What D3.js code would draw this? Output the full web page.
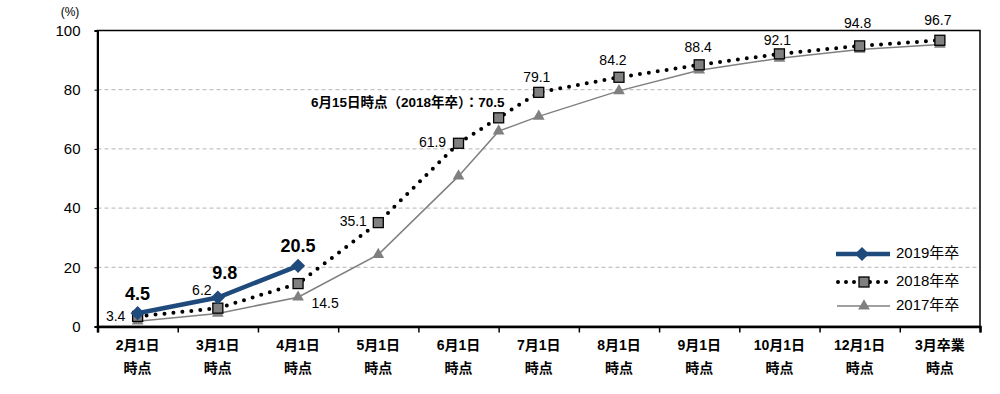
<!DOCTYPE html>
<html><head><meta charset="utf-8">
<script src="https://cdn.jsdelivr.net/npm/d3@7"></script>
<style>body{margin:0;background:#fff}svg{display:block}text{font-family:"Liberation Sans","Noto Sans CJK JP",sans-serif}</style>
</head><body><svg id="c" width="1000" height="394"></svg>
<script>
const categories = ["2月1日|時点","3月1日|時点","4月1日|時点","5月1日|時点","6月1日|時点","7月1日|時点","8月1日|時点","9月1日|時点","10月1日|時点","12月1日|時点","3月卒業|時点"];
const yTicks = [0,20,40,60,80,100];
const pos2019 = [0,1,2];
const val2019 = [4.5,9.8,20.5];
const pos2018 = [0,1,2,3,4,4.5,5,6,7,8,9,10];
const val2018 = [3.4,6.2,14.5,35.1,61.9,70.5,79.1,84.2,88.4,92.1,94.8,96.7];
const lab2018 = ["3.4","6.2","14.5","35.1","61.9","6月15日時点（2018年卒）：70.5","79.1","84.2","88.4","92.1","94.8","96.7"];
const pos2017 = [0,1,2,3,4,4.5,5,6,7,8,9,10];
const val2017 = [1.8,4.4,9.9,24.3,50.8,66.0,71.0,79.6,86.6,90.6,93.6,95.3];
const seriesNames = ["2019年卒","2018年卒","2017年卒"];

const svg = d3.select("#c");
const L=97.5, R=980, T=30.5, B=326.5;
const x = d3.scaleLinear().domain([-0.5,10.5]).range([L,R]);
const y = d3.scaleLinear().domain([0,100]).range([B,T]);
const navy="#1f4a7c", gray="#808080";

// gridlines
svg.append("g").selectAll("line").data(yTicks.filter(d=>d>0&&d<100)).join("line")
  .attr("x1",L).attr("x2",R).attr("y1",d=>y(d)).attr("y2",d=>y(d))
  .attr("stroke","#b4b4b4").attr("stroke-width",1).attr("stroke-dasharray","4,3");

// frame
svg.append("rect").attr("x",L).attr("y",T).attr("width",R-L).attr("height",B-T)
  .attr("fill","none").attr("stroke","#000").attr("stroke-width",1.5);

// y axis
const ya = svg.append("g").attr("transform",`translate(${L},0)`)
  .call(d3.axisLeft(y).tickValues(yTicks).tickSize(3).tickPadding(14));
ya.select(".domain").attr("stroke","#000").attr("stroke-width",2);
ya.selectAll("text").attr("font-size",15).attr("fill","#000").attr("font-family","Liberation Sans, Arial, sans-serif");
svg.append("text").attr("x",70).attr("y",16).attr("text-anchor","middle").attr("font-size",12).text("(%)");

// x axis
const xa = svg.append("g").attr("transform",`translate(0,${B})`)
  .call(d3.axisBottom(x).tickValues(d3.range(-0.5,11,1)).tickSize(6).tickFormat(""));
xa.select(".domain").attr("stroke","#000").attr("stroke-width",2.5);
xa.selectAll(".tick line").attr("stroke","#000").attr("stroke-width",1.5);
const xl = svg.append("g").selectAll("text").data(categories).join("text")
  .attr("x",(d,i)=>x(i)).attr("text-anchor","middle")
  .attr("font-size",14).attr("font-weight","bold")
  .attr("font-family","Noto Sans CJK JP, sans-serif").attr("fill","#000");
xl.append("tspan").attr("x",(d,i)=>x(i)).attr("y",350).text(d=>d.split("|")[0]);
xl.append("tspan").attr("x",(d,i)=>x(i)).attr("y",373).text(d=>d.split("|")[1]);

// 2017 line
const d17 = pos2017.map((p,i)=>[p,val2017[i]]);
const line = d3.line().x(d=>x(d[0])).y(d=>y(d[1]));
svg.append("path").datum(d17).attr("d",line).attr("fill","none").attr("stroke",gray).attr("stroke-width",1.5);
const tri = d3.symbol().type(d3.symbolTriangle).size(60);
svg.append("g").selectAll("path").data(d17).join("path")
  .attr("d",tri).attr("transform",d=>`translate(${x(d[0])},${y(d[1])})`).attr("fill",gray);

// 2018 line
const d18 = pos2018.map((p,i)=>[p,val2018[i]]);
svg.append("path").datum(d18).attr("d",line).attr("fill","none").attr("stroke","#000")
  .attr("stroke-width",4).attr("stroke-linecap","round").attr("stroke-dasharray","0,9");
svg.append("g").selectAll("rect").data(d18).join("rect")
  .attr("x",d=>x(d[0])-5).attr("y",d=>y(d[1])-5).attr("width",10).attr("height",10)
  .attr("fill",gray).attr("stroke","#000").attr("stroke-width",1.3);

// 2019 line
const d19 = pos2019.map((p,i)=>[p,val2019[i]]);
svg.append("path").datum(d19).attr("d",line).attr("fill","none").attr("stroke",navy).attr("stroke-width",4.5);
const dia = d3.symbol().type(d3.symbolSquare).size(100);
svg.append("g").selectAll("path").data(d19).join("path")
  .attr("d",dia).attr("transform",d=>`translate(${x(d[0])},${y(d[1])}) rotate(45)`).attr("fill",navy);

// labels 2019
const off19 = [[0,-18],[7,-23],[0,-19]];
svg.append("g").selectAll("text").data(d19).join("text")
  .attr("x",(d,i)=>x(d[0])+off19[i][0]).attr("y",(d,i)=>y(d[1])+off19[i][1])
  .attr("text-anchor","middle").attr("dominant-baseline","middle")
  .attr("font-size",18).attr("font-weight","bold").attr("font-family","Liberation Sans, Arial, sans-serif")
  .text((d,i)=>val2019[i].toFixed(1));

// labels 2018
const off18 = [[-22,1],[-16,-17],[27,21],[-25,0],[-26,0],[6,-14],[-2,-14],[-6,-16],[-1,-17],[-2,-13],[-2,-22],[-2,-19]];
svg.append("g").selectAll("text").data(d18).join("text")
  .attr("x",(d,i)=>x(d[0])+off18[i][0]).attr("y",(d,i)=>y(d[1])+off18[i][1])
  .attr("text-anchor",(d,i)=>i===5?"end":"middle").attr("dominant-baseline","middle")
  .attr("font-size",(d,i)=>i===5?13.5:14).attr("fill","#000")
  .attr("font-family",(d,i)=>i===5?"Noto Sans CJK JP, sans-serif":"Liberation Sans, Arial, sans-serif")
  .attr("font-weight",(d,i)=>i===5?"bold":"normal")
  .text((d,i)=>lab2018[i]);

// legend
const lg = svg.append("g");
const ly = [254,282,306];
lg.append("line").attr("x1",836).attr("x2",890).attr("y1",ly[0]).attr("y2",ly[0]).attr("stroke",navy).attr("stroke-width",4.5);
lg.append("path").attr("d",dia).attr("transform",`translate(862,${ly[0]}) rotate(45)`).attr("fill",navy);
lg.append("line").attr("x1",838).attr("x2",890).attr("y1",ly[1]).attr("y2",ly[1]).attr("stroke","#000").attr("stroke-width",4).attr("stroke-linecap","round").attr("stroke-dasharray","0,8");
lg.append("rect").attr("x",859).attr("y",ly[1]-5).attr("width",10).attr("height",10).attr("fill",gray).attr("stroke","#000").attr("stroke-width",1.3);
lg.append("line").attr("x1",837).attr("x2",890).attr("y1",ly[2]).attr("y2",ly[2]).attr("stroke",gray).attr("stroke-width",1.5);
lg.append("path").attr("d",tri).attr("transform",`translate(864,${ly[2]})`).attr("fill",gray);
lg.selectAll("text").data(seriesNames).join("text")
  .attr("x",896).attr("y",(d,i)=>ly[i]).attr("dominant-baseline","middle")
  .attr("font-size",15).attr("font-family","Noto Sans CJK JP, sans-serif").attr("fill","#000").text(d=>d);
</script></body></html>
